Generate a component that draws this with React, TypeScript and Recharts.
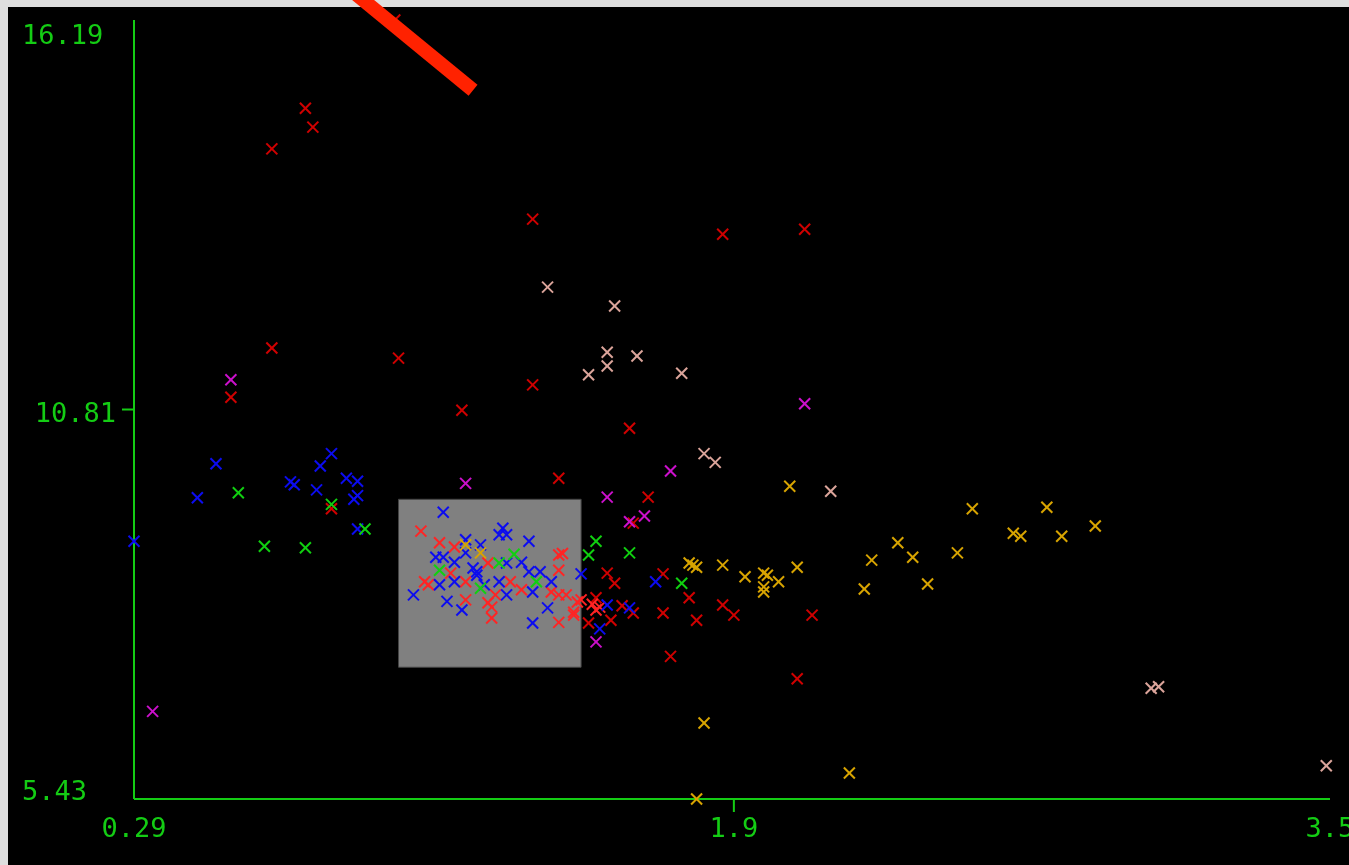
import { ScatterChart, Scatter, XAxis, YAxis, ReferenceArea, ReferenceLine } from "recharts";

type Pair = [number, number];

const xTicks = [0.29, 1.9, 3.5];
const yTicks = [5.43, 10.81, 16.19];

const darkRed: Pair[] = [
  [0.75, 14.97], [0.77, 14.71], [0.66, 14.41], [0.66, 11.66], [0.55, 10.98],
  [1.0, 11.52], [1.17, 10.8], [1.36, 13.44], [1.36, 11.15], [1.87, 13.23],
  [2.09, 13.3], [1.62, 10.55], [1.43, 9.86], [1.67, 9.6], [0.82, 9.44],
  [0.99, 16.19], [1.63, 9.24], [1.56, 8.55], [1.58, 8.41], [1.71, 8.54],
  [1.53, 8.21], [1.6, 8.1], [1.63, 8.0], [1.71, 8.0], [1.57, 7.9],
  [1.51, 7.86], [1.73, 7.4], [1.78, 8.21], [1.8, 7.9], [1.87, 8.11],
  [1.9, 7.97], [2.11, 7.97], [2.07, 7.09],
];

const brightRed: Pair[] = [
  [1.06, 9.13], [1.11, 8.97], [1.15, 8.91], [1.14, 8.55], [1.07, 8.43],
  [1.08, 8.39], [1.18, 8.43], [1.18, 8.18], [1.24, 8.14], [1.25, 7.93],
  [1.24, 8.69], [1.3, 8.43], [1.33, 8.32], [1.26, 8.25], [1.25, 8.08],
  [1.43, 8.8], [1.44, 8.82], [1.43, 8.59], [1.41, 8.29], [1.43, 8.25],
  [1.45, 8.25], [1.43, 7.87], [1.48, 8.15], [1.47, 8.01], [1.47, 7.97],
  [1.53, 8.04], [1.54, 8.08], [1.49, 8.18], [1.52, 8.12],
];

const blue: Pair[] = [
  [0.29, 8.99], [0.46, 9.59], [0.51, 10.06], [0.71, 9.81], [0.72, 9.77],
  [0.78, 9.7], [0.79, 10.03], [0.82, 10.2], [0.86, 9.86], [0.89, 9.82],
  [0.88, 9.57], [0.89, 9.62], [0.89, 9.16],
  [1.12, 9.39], [1.18, 9.01], [1.22, 8.94], [1.1, 8.77], [1.12, 8.77],
  [1.15, 8.7], [1.18, 8.83], [1.21, 8.57], [1.21, 8.52], [1.11, 8.39],
  [1.15, 8.43], [1.04, 8.25], [1.13, 8.16], [1.17, 8.04], [1.23, 8.39],
  [1.28, 9.17], [1.29, 9.08], [1.27, 9.08], [1.35, 8.99], [1.29, 8.69],
  [1.33, 8.7], [1.35, 8.57], [1.38, 8.57], [1.41, 8.43], [1.49, 8.54],
  [1.27, 8.43], [1.29, 8.25], [1.36, 8.29], [1.4, 8.07], [1.36, 7.86],
  [1.2, 8.62],
  [1.69, 8.43], [1.56, 8.11], [1.62, 8.07], [1.54, 7.78],
];

const green: Pair[] = [
  [0.57, 9.66], [0.82, 9.5], [0.64, 8.92], [0.75, 8.9], [0.91, 9.16],
  [1.11, 8.59], [1.22, 8.34], [1.31, 8.81], [1.27, 8.69], [1.37, 8.43],
  [1.53, 8.99], [1.51, 8.8], [1.62, 8.83], [1.76, 8.41],
];

const gold: Pair[] = [
  [1.18, 8.94], [1.22, 8.83], [2.05, 9.75], [1.79, 8.66], [1.8, 8.63],
  [1.78, 8.69], [1.87, 8.66], [1.93, 8.5], [1.98, 8.55], [1.99, 8.52],
  [1.98, 8.36], [1.98, 8.29], [2.02, 8.43], [2.07, 8.63], [2.27, 8.73],
  [2.25, 8.33], [2.34, 8.97], [2.38, 8.77], [2.42, 8.4], [2.5, 8.83],
  [2.54, 9.44], [2.65, 9.1], [2.67, 9.06], [2.74, 9.46], [2.78, 9.06],
  [2.87, 9.2], [1.82, 6.48], [2.21, 5.79], [1.8, 5.43],
];

const pink: Pair[] = [
  [1.4, 12.5], [1.58, 12.24], [1.56, 11.6], [1.56, 11.41], [1.51, 11.29],
  [1.64, 11.55], [1.76, 11.31], [1.82, 10.2], [1.85, 10.08], [2.16, 9.68],
  [3.02, 6.96], [3.04, 6.98], [3.49, 5.89],
];

const magenta: Pair[] = [
  [0.55, 11.22], [0.34, 6.64], [1.18, 9.79], [1.56, 9.6], [1.62, 9.26],
  [1.66, 9.34], [1.73, 9.96], [2.09, 10.89], [1.53, 7.6],
];

// selection box and the stroke drawn across the top
const selX: Pair = [1.0, 1.49];
const selY: Pair = [7.25, 9.57];
const strokeFrom = { x: 0.84, y: 16.74 };
const strokeTo = { x: 1.2, y: 15.22 };

const GREEN = "#14cc14";
const FONT = "'DejaVu Sans Mono', monospace";

const toPts = (a: Pair[]) => a.map(([x, y]) => ({ x, y }));

const series = [
  { name: "darkRed", color: "#d00000", data: darkRed },
  { name: "brightRed", color: "#ff2424", data: brightRed },
  { name: "blue", color: "#0c0cf0", data: blue },
  { name: "green", color: "#10d010", data: green },
  { name: "gold", color: "#d8a400", data: gold },
  { name: "pink", color: "#dba49a", data: pink },
  { name: "magenta", color: "#cc10cc", data: magenta },
];

function Cross(props: any) {
  const { cx, cy, color } = props;
  if (cx == null || cy == null) return null;
  const r = 5.5;
  return (
    <g stroke={color} strokeWidth={2}>
      <line x1={cx - r} y1={cy - r} x2={cx + r} y2={cy + r} />
      <line x1={cx - r} y1={cy + r} x2={cx + r} y2={cy - r} />
    </g>
  );
}

function XTick(props: any) {
  const { x, y, payload, index } = props;
  const mid = index === 1;
  return (
    <g>
      {mid && <line x1={x} y1={y} x2={x} y2={y + 13} stroke={GREEN} strokeWidth={2} />}
      <text x={x} y={y + 38} textAnchor="middle" fill={GREEN} fontFamily={FONT} fontSize={27}>
        {payload.value}
      </text>
    </g>
  );
}

function YTick(props: any) {
  const { x, y, payload, index } = props;
  const mid = index === 1;
  const top = index === yTicks.length - 1;
  return (
    <g>
      {mid && <line x1={x - 12} y1={y} x2={x} y2={y} stroke={GREEN} strokeWidth={2} />}
      <text
        x={mid ? x - 18 : x - 112}
        y={mid ? y + 12 : top ? y + 24 : y + 1}
        textAnchor={mid ? "end" : "start"}
        fill={GREEN}
        fontFamily={FONT}
        fontSize={27}
      >
        {payload.value}
      </text>
    </g>
  );
}

export default function App() {
  return (
    <div style={{ position: "fixed", inset: 0, background: "#dedede" }}>
      <style>{`.recharts-surface{overflow:visible}`}</style>
      <div style={{ position: "absolute", left: 8, top: 7, width: 1341, height: 858, background: "#000" }}>
        <ScatterChart width={1341} height={858} margin={{ top: 13, right: 19, bottom: 0, left: 0 }}>
          <XAxis
            type="number"
            dataKey="x"
            domain={[0.29, 3.5]}
            ticks={xTicks}
            interval={0}
            height={66}
            tickSize={0}
            tickMargin={0}
            tickLine={false}
            axisLine={{ stroke: GREEN, strokeWidth: 2 }}
            tick={<XTick />}
          />
          <YAxis
            type="number"
            dataKey="y"
            domain={[5.43, 16.19]}
            ticks={yTicks}
            interval={0}
            width={126}
            tickSize={0}
            tickMargin={0}
            tickLine={false}
            axisLine={{ stroke: GREEN, strokeWidth: 2 }}
            tick={<YTick />}
          />
          <ReferenceArea
            x1={selX[0]}
            x2={selX[1]}
            y1={selY[0]}
            y2={selY[1]}
            fill="#808080"
            fillOpacity={1}
            stroke="#444"
            strokeWidth={1}
          />
          {series.map((s) => (
            <Scatter
              key={s.name}
              name={s.name}
              data={toPts(s.data)}
              isAnimationActive={false}
              shape={(p: any) => <Cross {...p} color={s.color} />}
            />
          ))}
          <ReferenceLine
            segment={[strokeFrom, strokeTo]}
            stroke="#ff2200"
            strokeWidth={14}
            ifOverflow="visible"
            zIndex={2000}
          />
        </ScatterChart>
      </div>
    </div>
  );
}
